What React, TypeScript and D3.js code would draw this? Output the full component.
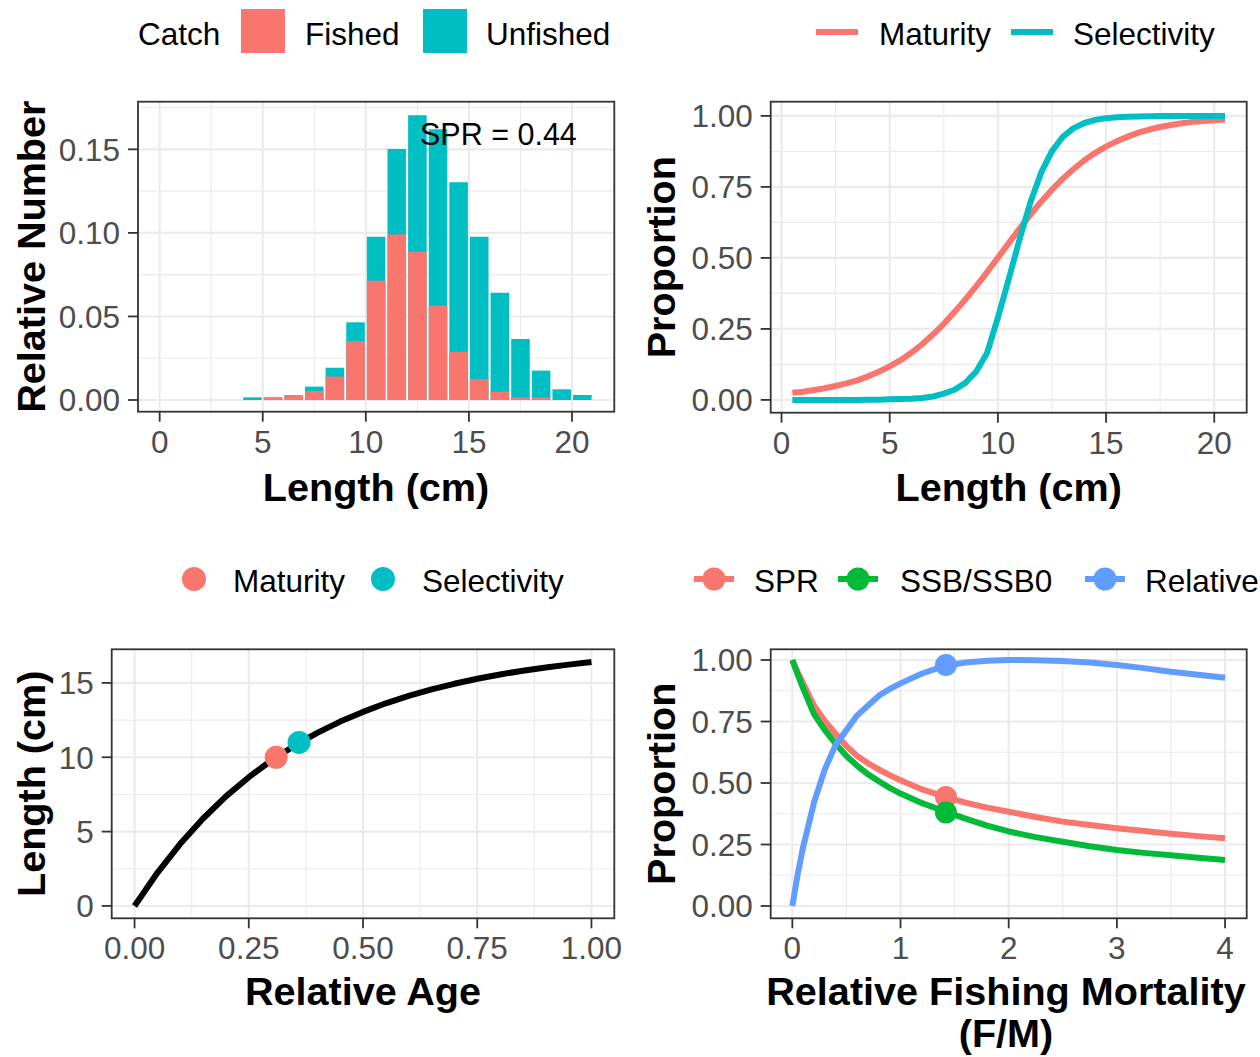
import React from "react";
import * as d3 from "d3";

const FONT = "'Liberation Sans', Arial, Helvetica, sans-serif";
const RED = "#F8766D";
const CYAN = "#00BFC4";
const GREEN = "#00BA38";
const BLUE = "#619CFF";
const TICK_TEXT = "#4D4D4D";
const BORDER = "#333333";
const GRID = "#EBEBEB";

// ---------- Panel 1: catch length composition ----------
const binMids = [4.5, 5.5, 6.5, 7.5, 8.5, 9.5, 10.5, 11.5, 12.5, 13.5, 14.5, 15.5, 16.5, 17.5, 18.5, 19.5, 20.5];
const catchUnfished = [0.0016, 0.0014, 0.0025, 0.008, 0.0193, 0.0465, 0.0977, 0.1502, 0.1704, 0.162, 0.1303, 0.0977, 0.0642, 0.0365, 0.0176, 0.0064, 0.003];
const catchFished = [0, 0.0016, 0.003, 0.0054, 0.014, 0.0353, 0.0714, 0.0991, 0.0888, 0.0565, 0.0289, 0.0126, 0.005, 0.0016, 0.0016, 0, 0];
const sprLabel = "SPR = 0.44";

// ---------- Panel 2: maturity & selectivity at length ----------
const lengthGrid = [0.5, 1, 1.5, 2, 2.5, 3, 3.5, 4, 4.5, 5, 5.5, 6, 6.5, 7, 7.5, 8, 8.5, 9, 9.5, 10, 10.5, 11, 11.5, 12, 12.5, 13, 13.5, 14, 14.5, 15, 15.5, 16, 16.5, 17, 17.5, 18, 18.5, 19, 19.5, 20, 20.5];
const maturityAtLength = [0.025, 0.029, 0.035, 0.041, 0.049, 0.058, 0.069, 0.083, 0.099, 0.118, 0.14, 0.166, 0.196, 0.23, 0.268, 0.31, 0.354, 0.401, 0.45, 0.5, 0.552, 0.603, 0.652, 0.698, 0.74, 0.779, 0.813, 0.844, 0.87, 0.892, 0.911, 0.927, 0.941, 0.952, 0.961, 0.968, 0.974, 0.979, 0.982, 0.985, 0.987];
const selectivityAtLength = [0, 0, 0, 0, 0, 0, 0, 0.001, 0.001, 0.002, 0.003, 0.004, 0.007, 0.012, 0.022, 0.036, 0.06, 0.1, 0.165, 0.29, 0.425, 0.565, 0.695, 0.8, 0.876, 0.926, 0.957, 0.975, 0.986, 0.992, 0.995, 0.997, 0.998, 0.999, 1, 1, 1, 1, 1, 1, 1];

// ---------- Panel 3: length at relative age ----------
const relAge = [0, 0.05, 0.1, 0.15, 0.2, 0.25, 0.3, 0.35, 0.4, 0.45, 0.5, 0.55, 0.6, 0.65, 0.7, 0.75, 0.8, 0.85, 0.9, 0.95, 1];
const lengthAtAge = [0, 2.23, 4.18, 5.88, 7.37, 8.66, 9.8, 10.78, 11.64, 12.4, 13.05, 13.63, 14.13, 14.56, 14.94, 15.28, 15.57, 15.82, 16.04, 16.23, 16.4];
const agePointNames = ["Maturity", "Selectivity"];
const agePointAge = [0.31, 0.36];
const agePointLength = [10.0, 11.0];

// ---------- Panel 4: per-recruit curves vs F/M ----------
const fmRatio = [0, 0.05, 0.1, 0.2, 0.3, 0.4, 0.5, 0.6, 0.7, 0.8, 0.9, 1.0, 1.2, 1.4, 1.6, 1.8, 2.0, 2.25, 2.5, 2.75, 3.0, 3.25, 3.5, 3.75, 4.0];
const sprCurve = [1.0, 0.95, 0.905, 0.815, 0.752, 0.7, 0.65, 0.61, 0.58, 0.555, 0.532, 0.511, 0.474, 0.446, 0.42, 0.4, 0.383, 0.362, 0.343, 0.329, 0.316, 0.305, 0.294, 0.284, 0.275];
const ssbCurve = [1.0, 0.94, 0.885, 0.78, 0.715, 0.66, 0.61, 0.57, 0.535, 0.507, 0.48, 0.457, 0.418, 0.386, 0.355, 0.327, 0.303, 0.28, 0.261, 0.243, 0.228, 0.216, 0.206, 0.196, 0.187];
const yieldCurve = [0.0, 0.13, 0.24, 0.42, 0.555, 0.655, 0.715, 0.775, 0.815, 0.855, 0.882, 0.905, 0.945, 0.975, 0.99, 0.997, 1.0, 0.999, 0.996, 0.99, 0.98, 0.967, 0.952, 0.94, 0.928];
const currentFM = 1.42;
const currentSPR = 0.443;
const currentSSB = 0.38;
const currentYield = 0.98;

const f2 = d3.format(".2f");
const f0 = d3.format("d");

type Scale = d3.ScaleLinear<number, number>;
type Cfg = {
  left: number; right: number; top: number; bottom: number;
  xd: [number, number]; yd: [number, number];
  xMajor: number[]; xMinor: number[]; yMajor: number[]; yMinor: number[];
  xFmt: (n: number) => string; yFmt: (n: number) => string;
};

const TICK_FS = 31.5;
const TITLE_FS = 39.6;

function Panel({ cfg, render }: { cfg: Cfg; render: (x: Scale, y: Scale) => React.ReactNode }) {
  const x = d3.scaleLinear().domain(cfg.xd).range([cfg.left, cfg.right]);
  const y = d3.scaleLinear().domain(cfg.yd).range([cfg.bottom, cfg.top]);
  return (
    <g>
      <rect x={cfg.left} y={cfg.top} width={cfg.right - cfg.left} height={cfg.bottom - cfg.top} fill="#fff" />
      {cfg.xMinor.map((v) => (
        <line key={"xm" + v} x1={x(v)} x2={x(v)} y1={cfg.top} y2={cfg.bottom} stroke={GRID} strokeWidth={1.1} />
      ))}
      {cfg.yMinor.map((v) => (
        <line key={"ym" + v} y1={y(v)} y2={y(v)} x1={cfg.left} x2={cfg.right} stroke={GRID} strokeWidth={1.1} />
      ))}
      {cfg.xMajor.map((v) => (
        <line key={"xM" + v} x1={x(v)} x2={x(v)} y1={cfg.top} y2={cfg.bottom} stroke={GRID} strokeWidth={2.1} />
      ))}
      {cfg.yMajor.map((v) => (
        <line key={"yM" + v} y1={y(v)} y2={y(v)} x1={cfg.left} x2={cfg.right} stroke={GRID} strokeWidth={2.1} />
      ))}
      {render(x, y)}
      <rect x={cfg.left} y={cfg.top} width={cfg.right - cfg.left} height={cfg.bottom - cfg.top} fill="none" stroke={BORDER} strokeWidth={1.8} />
      {cfg.xMajor.map((v) => (
        <g key={"xt" + v}>
          <line x1={x(v)} x2={x(v)} y1={cfg.bottom} y2={cfg.bottom + 10} stroke={BORDER} strokeWidth={1.8} />
          <text x={x(v)} y={cfg.bottom + 41} textAnchor="middle" fontSize={TICK_FS} fill={TICK_TEXT} fontFamily={FONT}>
            {cfg.xFmt(v)}
          </text>
        </g>
      ))}
      {cfg.yMajor.map((v) => (
        <g key={"yt" + v}>
          <line x1={cfg.left - 10} x2={cfg.left} y1={y(v)} y2={y(v)} stroke={BORDER} strokeWidth={1.8} />
          <text x={cfg.left - 18} y={y(v) + 11.3} textAnchor="end" fontSize={TICK_FS} fill={TICK_TEXT} fontFamily={FONT}>
            {cfg.yFmt(v)}
          </text>
        </g>
      ))}
    </g>
  );
}

const panelTL: Cfg = {
  left: 138, right: 614.3, top: 101.7, bottom: 411.7,
  xd: [-1.05, 22.05], yd: [-0.007, 0.1785],
  xMajor: [0, 5, 10, 15, 20], xMinor: [2.5, 7.5, 12.5, 17.5],
  yMajor: [0, 0.05, 0.1, 0.15], yMinor: [0.025, 0.075, 0.125, 0.175],
  xFmt: f0, yFmt: f2,
};
const panelTR: Cfg = {
  left: 770.7, right: 1246.7, top: 101.7, bottom: 412.7,
  xd: [-0.5, 21.5], yd: [-0.045, 1.05],
  xMajor: [0, 5, 10, 15, 20], xMinor: [2.5, 7.5, 12.5, 17.5],
  yMajor: [0, 0.25, 0.5, 0.75, 1], yMinor: [0.125, 0.375, 0.625, 0.875],
  xFmt: f0, yFmt: f2,
};
const panelBL: Cfg = {
  left: 111.7, right: 614.3, top: 649.3, bottom: 918.3,
  xd: [-0.05, 1.05], yd: [-0.83, 17.26],
  xMajor: [0, 0.25, 0.5, 0.75, 1], xMinor: [0.125, 0.375, 0.625, 0.875],
  yMajor: [0, 5, 10, 15], yMinor: [2.5, 7.5, 12.5],
  xFmt: f2, yFmt: f0,
};
const panelBR: Cfg = {
  left: 770.7, right: 1246.7, top: 649.3, bottom: 918.3,
  xd: [-0.2, 4.2], yd: [-0.05, 1.0435],
  xMajor: [0, 1, 2, 3, 4], xMinor: [0.5, 1.5, 2.5, 3.5],
  yMajor: [0, 0.25, 0.5, 0.75, 1], yMinor: [0.125, 0.375, 0.625, 0.875],
  xFmt: f0, yFmt: f2,
};

function pathOf(xs: number[], ys: number[], x: Scale, y: Scale): string {
  const line = d3.line<number>().x((_, i) => x(xs[i])).y((v) => y(v));
  return line(ys) || "";
}

const LW = 6;

export default function App() {
  const txt = { fontFamily: FONT, fontSize: TICK_FS, fill: "#000" } as const;
  const title = { fontFamily: FONT, fontSize: TITLE_FS, fontWeight: 700, fill: "#000" } as const;
  return (
    <svg width={1260} height={1057} style={{ position: "absolute", left: 0, top: 0, background: "#fff" }}>
      <rect x={0} y={0} width={1260} height={1057} fill="#fff" />

      {/* ---------- Top-left ---------- */}
      <text x={138} y={45} {...txt}>Catch</text>
      <rect x={241} y={9} width={44} height={44} fill={RED} />
      <text x={305} y={45} {...txt}>Fished</text>
      <rect x={423} y={9} width={44} height={44} fill={CYAN} />
      <text x={486} y={45} {...txt}>Unfished</text>

      <Panel
        cfg={panelTL}
        render={(x, y) => {
          const w = (x(1) - x(0)) * 0.9;
          return (
            <g>
              {binMids.map((m, i) => (
                <rect key={"u" + i} x={x(m) - w / 2} y={y(catchUnfished[i])} width={w} height={Math.max(0, y(0) - y(catchUnfished[i]))} fill={CYAN} />
              ))}
              {binMids.map((m, i) => (
                <rect key={"f" + i} x={x(m) - w / 2} y={y(catchFished[i])} width={w} height={Math.max(0, y(0) - y(catchFished[i]))} fill={RED} />
              ))}
              <text x={420} y={145} {...txt} fontSize={30.5}>{sprLabel}</text>
            </g>
          );
        }}
      />
      <text transform="translate(45,256.7) rotate(-90)" textAnchor="middle" {...title}>Relative Number</text>
      <text x={376} y={501} textAnchor="middle" {...title}>Length (cm)</text>

      {/* ---------- Top-right ---------- */}
      <line x1={816} x2={858} y1={32} y2={32} stroke={RED} strokeWidth={LW} />
      <text x={879} y={45} {...txt}>Maturity</text>
      <line x1={1011} x2={1053} y1={32} y2={32} stroke={CYAN} strokeWidth={LW} />
      <text x={1073} y={45} {...txt}>Selectivity</text>

      <Panel
        cfg={panelTR}
        render={(x, y) => (
          <g>
            <path d={pathOf(lengthGrid, maturityAtLength, x, y)} fill="none" stroke={RED} strokeWidth={LW} strokeLinejoin="round" />
            <path d={pathOf(lengthGrid, selectivityAtLength, x, y)} fill="none" stroke={CYAN} strokeWidth={LW} strokeLinejoin="round" />
          </g>
        )}
      />
      <text transform="translate(675,257.2) rotate(-90)" textAnchor="middle" {...title}>Proportion</text>
      <text x={1008.7} y={501} textAnchor="middle" {...title}>Length (cm)</text>

      {/* ---------- Bottom-left ---------- */}
      <circle cx={194} cy={579} r={12} fill={RED} />
      <text x={233} y={592} {...txt}>{agePointNames[0]}</text>
      <circle cx={383} cy={579} r={12} fill={CYAN} />
      <text x={422} y={592} {...txt}>{agePointNames[1]}</text>

      <Panel
        cfg={panelBL}
        render={(x, y) => (
          <g>
            <path d={pathOf(relAge, lengthAtAge, x, y)} fill="none" stroke="#000" strokeWidth={LW} strokeLinejoin="round" />
            {agePointAge.map((a, i) => (
              <circle key={i} cx={x(a)} cy={y(agePointLength[i])} r={11.5} fill={i === 0 ? RED : CYAN} />
            ))}
          </g>
        )}
      />
      <text transform="translate(45,783.8) rotate(-90)" textAnchor="middle" {...title}>Length (cm)</text>
      <text x={363} y={1005} textAnchor="middle" {...title}>Relative Age</text>

      {/* ---------- Bottom-right ---------- */}
      <line x1={694} x2={734} y1={579} y2={579} stroke={RED} strokeWidth={LW} />
      <circle cx={714} cy={579} r={11.5} fill={RED} />
      <text x={754} y={592} {...txt}>SPR</text>
      <line x1={838} x2={878} y1={579} y2={579} stroke={GREEN} strokeWidth={LW} />
      <circle cx={858} cy={579} r={11.5} fill={GREEN} />
      <text x={900} y={592} {...txt}>SSB/SSB0</text>
      <line x1={1085} x2={1125} y1={579} y2={579} stroke={BLUE} strokeWidth={LW} />
      <circle cx={1105} cy={579} r={11.5} fill={BLUE} />
      <text x={1145} y={592} {...txt}>Relative Yield</text>

      <Panel
        cfg={panelBR}
        render={(x, y) => (
          <g>
            <path d={pathOf(fmRatio, sprCurve, x, y)} fill="none" stroke={RED} strokeWidth={LW} strokeLinejoin="round" />
            <path d={pathOf(fmRatio, ssbCurve, x, y)} fill="none" stroke={GREEN} strokeWidth={LW} strokeLinejoin="round" />
            <path d={pathOf(fmRatio, yieldCurve, x, y)} fill="none" stroke={BLUE} strokeWidth={LW} strokeLinejoin="round" />
            <circle cx={x(currentFM)} cy={y(currentSPR)} r={11} fill={RED} />
            <circle cx={x(currentFM)} cy={y(currentSSB)} r={11} fill={GREEN} />
            <circle cx={x(currentFM)} cy={y(currentYield)} r={11} fill={BLUE} />
          </g>
        )}
      />
      <text transform="translate(675,783.8) rotate(-90)" textAnchor="middle" {...title}>Proportion</text>
      <text x={1006} y={1005} textAnchor="middle" {...title}>Relative Fishing Mortality</text>
      <text x={1006} y={1047} textAnchor="middle" {...title}>(F/M)</text>
    </svg>
  );
}
